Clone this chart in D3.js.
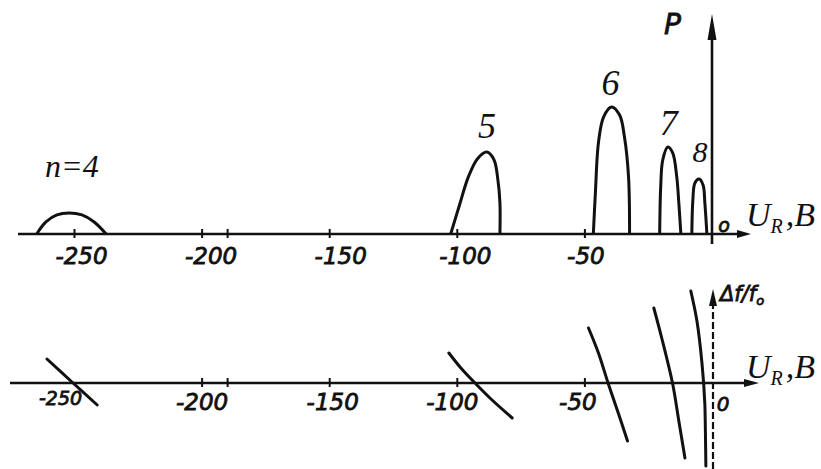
<!DOCTYPE html>
<html>
<head>
<meta charset="utf-8">
<script src="https://cdn.jsdelivr.net/npm/d3@7"></script>
<style>
  html, body { margin: 0; padding: 0; background: #fff; }
  svg { display: block; }
  .tick-label { font-family: "DejaVu Sans", sans-serif; font-style: italic; fill: #111; stroke: #111; stroke-width: 0.8px; }
  .serif { font-family: "Liberation Serif", "Times New Roman", serif; fill: #111; }
</style>
</head>
<body>
<svg id="chart" width="821" height="469"></svg>
<script>
// Reflex klystron zones: output power P and electronic tuning Δf/f0 versus repeller voltage U_R (V)

// Repeller voltage ticks
const uTicks = [-250, -200, -190, -150, -100, -50];
const uTickLabels = ["-250", "-200", "", "-150", "-100", "-50"];

// Zone numbers
const modes = [4, 5, 6, 7, 8];

// Output power per zone: [U_R, P] (arbitrary units)
const power4 = [[-264.6, 0], [-261.0, 0.55], [-256.7, 0.87], [-252.0, 0.96], [-246.9, 0.87], [-242.1, 0.55], [-237.4, 0]];
const power5 = [[-102.4, 0], [-99.0, 1.3], [-95.5, 2.6], [-91.8, 3.45], [-88.2, 3.74], [-85.4, 3.38], [-83.9, 2.47], [-83.1, 1.42], [-83.1, 0]];
const power6 = [[-46.5, 0], [-45.7, 1.87], [-44.5, 4.16], [-42.5, 5.34], [-39.4, 5.80], [-36.2, 5.43], [-34.3, 4.43], [-32.7, 2.60], [-32.3, 0]];
const power7 = [[-20.5, 0], [-20.1, 2.15], [-19.3, 3.38], [-17.3, 3.97], [-15.4, 3.70], [-13.8, 2.60], [-13.0, 1.42], [-12.2, 0]];
const power8 = [[-7.9, 0], [-7.5, 1.55], [-6.7, 2.33], [-5.1, 2.51], [-3.5, 2.24], [-2.8, 1.42], [-2.0, 0]];

// Relative frequency deviation per zone: [U_R, Δf/f0] (arbitrary units)
const tune4 = [[-260.6, 1.2], [-250.8, 0.05], [-240.9, -1.1]];
const tune5 = [[-103.1, 1.5], [-98.4, 0.75], [-92.5, -0.05], [-86.6, -0.8], [-78.3, -1.75]];
const tune6 = [[-48.4, 2.75], [-44.5, 1.5], [-40.6, -0.05], [-36.6, -1.55], [-33.1, -2.9]];
const tune7 = [[-22.8, 3.75], [-19.7, 2.25], [-15.4, -0.05], [-13.0, -1.9], [-10.6, -3.75]];
const tune8 = [[-8.3, 4.6], [-5.9, 3.1], [-3.9, 0.95], [-2.8, -1.05], [-2.4, -4.15]];

const powerCurves = [power4, power5, power6, power7, power8];
const tuneCurves = [tune4, tune5, tune6, tune7, tune8];

const svg = d3.select("#chart");
svg.append("rect").attr("width", 821).attr("height", 469).attr("fill", "#fff");

const ink = "#111";
const x = d3.scaleLinear().domain([-250, 0]).range([74, 712]);
const yP = d3.scaleLinear().domain([0, 10]).range([234, 15]);
const yF = d3.scaleLinear().domain([-4.5, 4.5]).range([473, 293]);

function axisTitle(g, ty) {
  const t = g.append("text").attr("class", "serif").attr("x", 746).attr("y", ty)
    .attr("font-size", 34).attr("font-style", "italic");
  t.append("tspan").text("U");
  t.append("tspan").attr("font-size", 20).attr("dy", 7).text("R");
  t.append("tspan").attr("dy", -7).attr("dx", 3).text(",B");
}

// ---------- upper panel: power ----------
const upper = svg.append("g");

// horizontal axis with arrow
upper.append("line").attr("x1", 18).attr("x2", 744).attr("y1", yP(0)).attr("y2", yP(0))
  .attr("stroke", ink).attr("stroke-width", 2.6);
upper.append("path").attr("d", `M751,${yP(0)} L737,${yP(0) - 4} L737,${yP(0) + 4} Z`).attr("fill", ink);

const upperAxis = d3.axisBottom(x).tickValues(uTicks).tickSize(0).tickFormat((d, i) => uTickLabels[i]);
const gUpper = upper.append("g").attr("transform", `translate(0,${yP(0)})`).call(upperAxis);
gUpper.select(".domain").remove();
gUpper.selectAll(".tick").append("line").attr("y1", -5).attr("y2", 4).attr("stroke", ink).attr("stroke-width", 2);
const upperNudge = { "-250": 7, "-200": 9, "-150": 11, "-100": 8, "-50": 1 };
gUpper.selectAll(".tick text").attr("class", "tick-label").attr("font-size", 23)
  .attr("y", 14).attr("dy", "0.71em").attr("dx", d => upperNudge[d] || 0);

// vertical P axis with arrow
upper.append("line").attr("x1", x(0)).attr("x2", x(0)).attr("y1", 244).attr("y2", 36)
  .attr("stroke", ink).attr("stroke-width", 2.6);
upper.append("path").attr("d", `M${x(0)},14 L${x(0) - 4.5},40 L${x(0) + 4.5},40 Z`).attr("fill", ink);
upper.append("text").attr("class", "tick-label").attr("x", 664).attr("y", 34)
  .attr("font-size", 28).text("P");
upper.append("text").attr("class", "tick-label").attr("x", 724).attr("y", 232)
  .attr("text-anchor", "middle").attr("font-size", 19).text("o");

axisTitle(upper, 226);

const powerLine = d3.line().x(d => x(d[0])).y(d => yP(d[1])).curve(d3.curveCatmullRom.alpha(0.5));
upper.selectAll("path.power").data(powerCurves).join("path")
  .attr("class", "power").attr("d", powerLine)
  .attr("fill", "none").attr("stroke", ink).attr("stroke-width", 3).attr("stroke-linejoin", "round");

// zone labels above each peak
const labelStyle = {
  4: { dx: 3, rise: 36, size: 32, text: "n=4" },
  5: { dx: 0, rise: 14, size: 36, text: "5" },
  6: { dx: -1, rise: 12, size: 36, text: "6" },
  7: { dx: 1, rise: 12, size: 36, text: "7" },
  8: { dx: 1, rise: 17, size: 30, text: "8" }
};
modes.forEach((m, i) => {
  const peak = powerCurves[i].reduce((a, b) => (b[1] > a[1] ? b : a));
  const s = labelStyle[m];
  upper.append("text").attr("class", "serif")
    .attr("x", x(peak[0]) + s.dx).attr("y", yP(peak[1]) - s.rise)
    .attr("text-anchor", "middle").attr("font-size", s.size)
    .attr("font-style", "italic")
    .text(s.text);
});

// ---------- lower panel: frequency ----------
const lower = svg.append("g");
const y0 = yF(0);

lower.append("line").attr("x1", 10).attr("x2", 752).attr("y1", y0).attr("y2", y0)
  .attr("stroke", ink).attr("stroke-width", 2.6);
lower.append("path").attr("d", `M759,${y0} L744,${y0 - 4} L744,${y0 + 4} Z`).attr("fill", ink);

const lowerAxis = d3.axisBottom(x).tickValues(uTicks).tickSize(0).tickFormat((d, i) => uTickLabels[i]);
const gLower = lower.append("g").attr("transform", `translate(0,${y0})`).call(lowerAxis);
gLower.select(".domain").remove();
gLower.selectAll(".tick").filter(d => d !== -250).append("line")
  .attr("y1", -5).attr("y2", 4).attr("stroke", ink).attr("stroke-width", 2);
const lowerNudge = { "-250": -14, "-200": 0, "-150": 3, "-100": -5, "-50": -7 };
gLower.selectAll(".tick text").attr("class", "tick-label")
  .attr("font-size", d => (d === -250 ? 19 : 23))
  .attr("y", d => (d === -250 ? 9 : 11)).attr("dy", "0.71em").attr("dx", d => lowerNudge[d] || 0);
lower.append("text").attr("class", "tick-label").attr("x", 723).attr("y", 411)
  .attr("text-anchor", "middle").attr("font-size", 20).text("0");

// dashed Δf/f0 axis
lower.append("line").attr("x1", x(0) + 1).attr("x2", x(0) + 1).attr("y1", 469).attr("y2", 300)
  .attr("stroke", ink).attr("stroke-width", 2.2).attr("stroke-dasharray", "7,3");
lower.append("path").attr("d", `M${x(0) + 1},289 L${x(0) - 3},306 L${x(0) + 5},306 Z`).attr("fill", ink);
const fLabel = lower.append("text").attr("class", "tick-label").attr("x", 720).attr("y", 301)
  .attr("font-size", 21);
fLabel.append("tspan").text("Δf/f");
fLabel.append("tspan").attr("font-size", 13).attr("dy", 4).text("o");

axisTitle(lower, 378);

const tuneLine = d3.line().x(d => x(d[0])).y(d => yF(d[1])).curve(d3.curveCatmullRom.alpha(0.5));
lower.selectAll("path.tune").data(tuneCurves).join("path")
  .attr("class", "tune").attr("d", tuneLine)
  .attr("fill", "none").attr("stroke", ink).attr("stroke-width", 3).attr("stroke-linecap", "round");
</script>
</body>
</html>
